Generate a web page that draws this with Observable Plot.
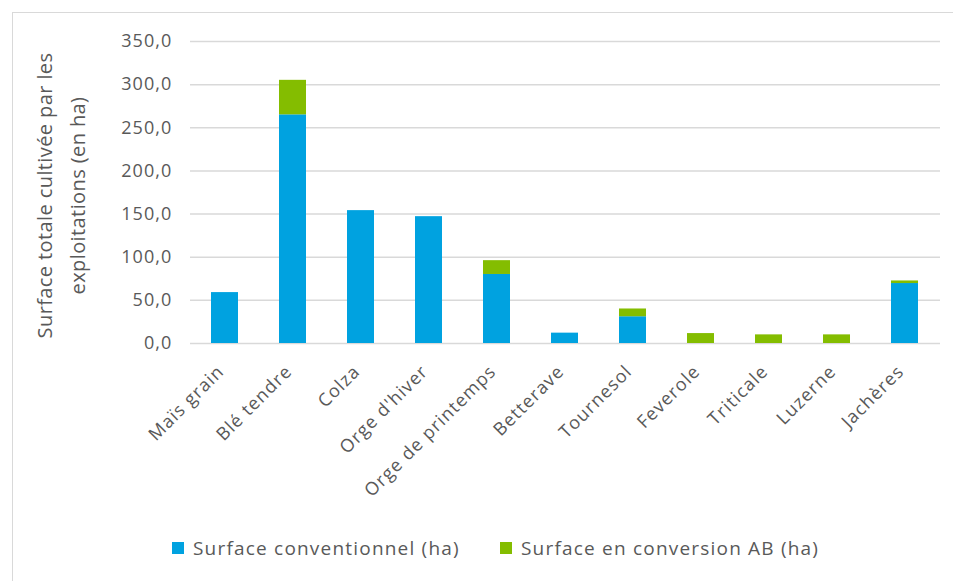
<!DOCTYPE html>
<html>
<head>
<meta charset="utf-8">
<script src="https://cdn.jsdelivr.net/npm/d3@7"></script>
<script src="https://cdn.jsdelivr.net/npm/@observablehq/plot@0.6"></script>
<style>
  html, body { margin: 0; padding: 0; background: #fff; overflow: hidden; }
  #wrap { position: relative; width: 953px; height: 581px; }
  #frame { position: absolute; left: 12px; top: 12px; width: 960px; height: 600px; border: 1.5px solid #d9d9d9; box-sizing: border-box; }
  #chart { position: absolute; left: 0; top: 0; }
  #legend { position: absolute; top: 535px; left: 0; width: 953px; font-family: "Open Sans", sans-serif; font-size: 19px; letter-spacing: 1.2px; color: #595959; }
  .item { position: absolute; top: 0; display: flex; align-items: center; white-space: nowrap; }
  .sw { width: 12px; height: 12px; margin-right: 9px; }
</style>
</head>
<body>
<div id="wrap">
  <div id="frame"></div>
  <div id="chart"></div>
  <div id="legend"></div>
</div>
<script>
const categories = ["Maïs grain", "Blé tendre", "Colza", "Orge d'hiver", "Orge de printemps", "Betterave", "Tournesol", "Feverole", "Triticale", "Luzerne", "Jachères"];
const conventionnel = [59, 265, 154, 147, 80, 12, 31, 0, 0, 0, 69.5];
const conversionAB = [0, 40, 0, 0, 16, 0, 9, 11.5, 10, 10, 3];
const seriesNames = ["Surface conventionnel (ha)", "Surface en conversion AB (ha)"];
const seriesColors = ["#00a2e0", "#84bd00"];
const yTicks = [0, 50, 100, 150, 200, 250, 300, 350];

const data = [];
categories.forEach((c, i) => {
  data.push({cat: c, series: seriesNames[0], value: conventionnel[i]});
  data.push({cat: c, series: seriesNames[1], value: conversionAB[i]});
});

const fmt = v => d3.format(".1f")(v).replace(".", ",");

const chart = Plot.plot({
  width: 953,
  height: 520,
  marginLeft: 190,
  marginRight: 13,
  marginTop: 41,
  marginBottom: 177,
  style: {fontFamily: "Open Sans, sans-serif", fontSize: "18px", color: "#595959", background: "transparent"},
  x: {domain: categories, paddingInner: 0.6, paddingOuter: 0.3, label: null},
  y: {domain: [0, 350], label: null},
  color: {domain: seriesNames, range: seriesColors},
  marks: [
    Plot.ruleY(yTicks, {stroke: "#d9d9d9", strokeWidth: 1.5}),
    Plot.barY(data, Plot.stackY({x: "cat", y: "value", fill: "series", order: seriesNames})),
    Plot.axisY({ticks: yTicks, tickFormat: fmt, tickSize: 0, tickPadding: 18, fontSize: 18, label: null}),
    Plot.axisX({tickRotate: -45, tickSize: 0, tickPadding: 18, dx: -4, dy: 7, fontSize: 18, label: null}),
    Plot.text(["Surface totale cultivée par les\nexploitations (en ha)"], {
      frameAnchor: "left", rotate: -90, dx: -133, dy: 3, fontSize: 20, fill: "#595959", lineAnchor: "middle", textAnchor: "middle", lineHeight: 1.65
    })
  ]
});
d3.select(chart).selectAll("text").style("letter-spacing", "1.1px");
d3.select(chart).selectAll("text").filter(function() { return this.textContent.startsWith("Surface"); }).style("letter-spacing", "0.4px");
document.getElementById("chart").appendChild(chart);

const legend = document.getElementById("legend");
const positions = [172, 500];
seriesNames.forEach((name, i) => {
  const item = document.createElement("div");
  item.className = "item";
  item.style.left = positions[i] + "px";
  const sw = document.createElement("div");
  sw.className = "sw";
  sw.style.background = seriesColors[i];
  const t = document.createElement("span");
  t.textContent = name;
  item.appendChild(sw);
  item.appendChild(t);
  legend.appendChild(item);
});
</script>
</body>
</html>
